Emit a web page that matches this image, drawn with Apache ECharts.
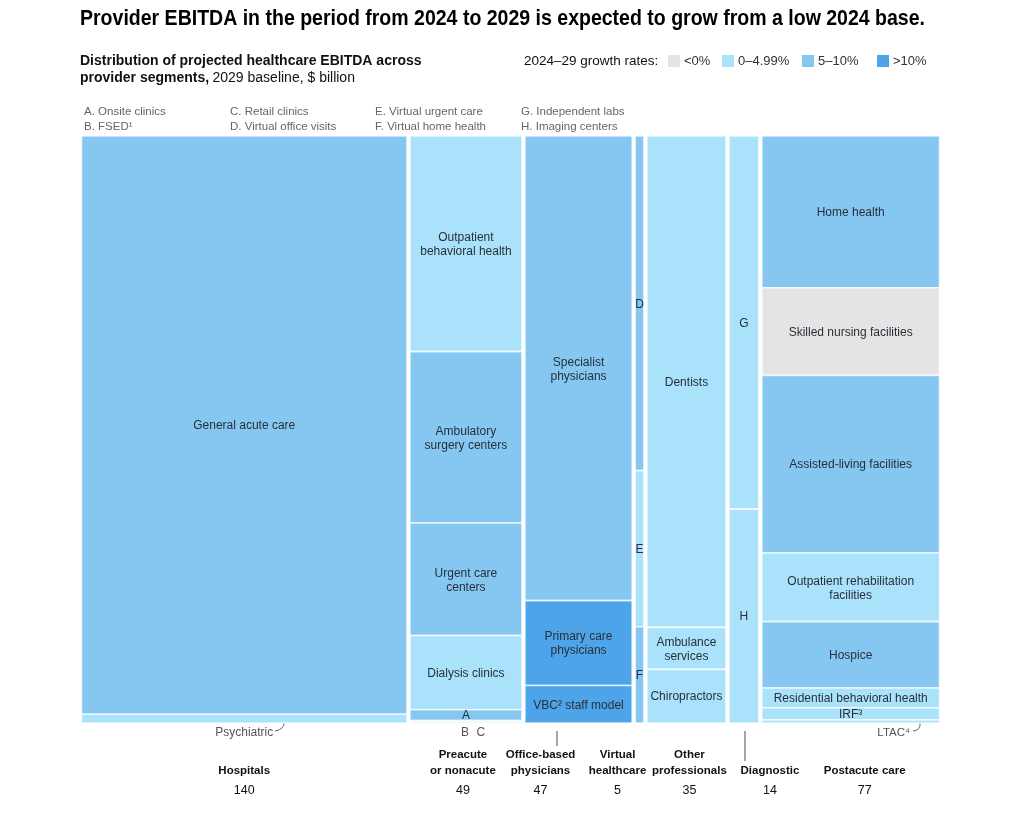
<!DOCTYPE html>
<html><head><meta charset="utf-8">
<script src="https://cdn.jsdelivr.net/npm/echarts@6/dist/echarts.min.js"></script>
<style>html,body{margin:0;padding:0;background:#fff}#c{width:1024px;height:814px}</style>
</head><body><div id="c"></div>
<script>
// ---------- DATA ----------
const groupNames = ['Hospitals','Preacute\nor nonacute','Office-based\nphysicians','Virtual\nhealthcare','Other\nprofessionals','Diagnostic','Postacute care'];
const groupTotals = [140, 49, 47, 5, 35, 14, 77];

const rateLabels = ['<0%', '0–4.99%', '5–10%', '>10%'];

const hospitalsNames = ['General acute care', 'Psychiatric'];
const hospitalsValues = [137.9, 2.1];
const hospitalsRates = [2, 1];

const preacuteNames = ['Outpatient\nbehavioral health', 'Ambulatory\nsurgery centers', 'Urgent care\ncenters', 'Dialysis clinics', 'A', 'B', 'C'];
const preacuteValues = [18, 14.3, 9.4, 6.2, 0.9, 0.1, 0.1];
const preacuteRates = [1, 2, 2, 1, 2, 1, 1];

const officeNames = ['Specialist\nphysicians', 'Primary care\nphysicians', 'VBC² staff model'];
const officeValues = [37.2, 6.8, 3.0];
const officeRates = [2, 3, 3];

const virtualNames = ['D', 'E', 'F'];
const virtualValues = [2.85, 1.33, 0.82];
const virtualRates = [2, 1, 2];

const otherNames = ['Dentists', 'Ambulance\nservices', 'Chiropractors'];
const otherValues = [29.3, 2.5, 3.2];
const otherRates = [1, 1, 1];

const diagnosticNames = ['G', 'H'];
const diagnosticValues = [8.9, 5.1];
const diagnosticRates = [1, 1];

const postacuteNames = ['Home health', 'Skilled nursing facilities', 'Assisted-living facilities', 'Outpatient rehabilitation\nfacilities', 'Hospice', 'Residential behavioral health', 'IRF³', 'LTAC⁴'];
const postacuteValues = [19.9, 11.5, 23.3, 9.0, 8.7, 2.6, 1.6, 0.4];
const postacuteRates = [2, 0, 2, 1, 2, 1, 1, 1];

// labels drawn outside the cells
const outsideLabels = ['Psychiatric', 'B', 'C', 'LTAC⁴'];

const keyNotes = [
  ['A. Onsite clinics', 'B. FSED¹'],
  ['C. Retail clinics', 'D. Virtual office visits'],
  ['E. Virtual urgent care', 'F. Virtual home health'],
  ['G. Independent labs', 'H. Imaging centers']
];

// ---------- STYLE ----------
const rateColors = ['#e4e4e4', '#aae2fb', '#86c7f2', '#4ea4e9'];
const FONT = "'Liberation Sans', Arial, sans-serif";
const TITLE_TEXT = 'Provider EBITDA in the period from 2024 to 2029 is expected to grow from a low 2024 base.';
const TITLE_FONT = 'bold 22px ' + FONT;

const segNames = [hospitalsNames, preacuteNames, officeNames, virtualNames, otherNames, diagnosticNames, postacuteNames];
const segValues = [hospitalsValues, preacuteValues, officeValues, virtualValues, otherValues, diagnosticValues, postacuteValues];
const segRates = [hospitalsRates, preacuteRates, officeRates, virtualRates, otherRates, diagnosticRates, postacuteRates];

const grandTotal = groupTotals.reduce((a, b) => a + b, 0);
const cells = [];
let cx = 0;
groupTotals.forEach((tot, gi) => {
  let cy = 0;
  const sumSeg = segValues[gi].reduce((a, b) => a + b, 0);
  segValues[gi].forEach((v, si) => {
    const nm = segNames[gi][si];
    const lbl = outsideLabels.includes(nm) ? '' : nm;
    cells.push([cx, cx + tot, cy / sumSeg, (cy + v) / sumSeg, segRates[gi][si], lbl, gi]);
    cy += v;
  });
  cx += tot;
});

function renderItem(params, api) {
  const x0 = api.value(0), x1 = api.value(1), y0 = api.value(2), y1 = api.value(3);
  const p0 = api.coord([x0, y0]), p1 = api.coord([x1, y1]);
  const gap = 1.5;
  const label = cells[params.dataIndex][5];
  const w = p1[0] - p0[0] - 2 * gap;
  const h = p1[1] - p0[1];
  return {
    type: 'rect',
    shape: { x: p0[0] + gap, y: p0[1], width: w, height: h },
    style: { fill: rateColors[api.value(4)], stroke: 'rgba(255,255,255,0.75)', lineWidth: 1.6 },
    textContent: {
      style: { text: label, fill: '#28303a', font: '12px ' + FONT, align: 'center', verticalAlign: 'middle', lineHeight: 14 }
    },
    textConfig: { position: 'inside', offset: [0, h < 16 ? 0.5 : 1] }
  };
}

const chart = echarts.init(document.getElementById('c'), null, { renderer: 'canvas' });
const GRID = { left: 80, right: 83, top: 136, bottom: 91 };
chart.setOption({
  animation: false,
  grid: GRID,
  xAxis: { type: 'value', min: 0, max: grandTotal, show: false },
  yAxis: { type: 'value', min: 0, max: 1, inverse: true, show: false },
  series: [{ type: 'custom', renderItem, data: cells, encode: { x: [0, 1], y: [2, 3] } }]
});

// ---------- ANNOTATIONS ----------
const mctx = document.createElement('canvas').getContext('2d');
mctx.font = TITLE_FONT;
const titleW = mctx.measureText(TITLE_TEXT).width;
const titleScale = 845 / titleW;

const g = [];
g.push({ type: 'text', x: 80, y: 19, scaleX: titleScale, style: { text: TITLE_TEXT, font: TITLE_FONT, fill: '#000', verticalAlign: 'middle' } });
g.push({ type: 'text', left: 80, top: 54, style: {
  text: '{b|Distribution of projected healthcare EBITDA across}\n{b|provider segments,} {n|2029 baseline, $ billion}',
  rich: { b: { font: 'bold 14px ' + FONT, fill: '#111', lineHeight: 17 }, n: { font: '14px ' + FONT, fill: '#111', lineHeight: 17 } }
} });
// legend
g.push({ type: 'text', x: 524, y: 61, style: { text: '2024–29 growth rates:', font: '13.5px ' + FONT, fill: '#111', verticalAlign: 'middle' } });
const legX = [668, 722, 802, 877];
rateLabels.forEach((t, i) => {
  g.push({ type: 'rect', shape: { x: legX[i], y: 55, width: 12, height: 12 }, style: { fill: rateColors[i] } });
  g.push({ type: 'text', x: legX[i] + 16, y: 61, style: { text: t, font: '13px ' + FONT, fill: '#333', verticalAlign: 'middle' } });
});
// key notes
const keyX = [84, 230, 375, 521];
keyNotes.forEach((pair, i) => {
  g.push({ type: 'text', left: keyX[i], top: 104, style: { text: pair[0] + '\n' + pair[1], font: '11.5px ' + FONT, fill: '#666', lineHeight: 15.5 } });
});

// column centers from the axis
const groupShift = [0, -3, -38, -22, 3, 26, 14];
let acc = 0;
groupTotals.forEach((tot, gi) => {
  const c = chart.convertToPixel({ gridIndex: 0 }, [acc + tot / 2, 1])[0] + groupShift[gi];
  acc += tot;
  g.push({ type: 'text', x: c, y: 779, style: { text: groupNames[gi], font: 'bold 11.5px ' + FONT, fill: '#111', align: 'center', verticalAlign: 'bottom', lineHeight: 16 } });
  g.push({ type: 'text', x: c, y: 791, style: { text: String(groupTotals[gi]), font: '12.5px ' + FONT, fill: '#111', align: 'center', verticalAlign: 'middle' } });
});

// outside labels
const hospC = chart.convertToPixel({ gridIndex: 0 }, [groupTotals[0] / 2, 1])[0];
g.push({ type: 'text', x: hospC, y: 733, style: { text: 'Psychiatric', font: '12px ' + FONT, fill: '#555', align: 'center', verticalAlign: 'middle' } });
g.push({ type: 'bezierCurve', shape: { x1: 284, y1: 722, x2: 275, y2: 731, cpx1: 285, cpy1: 729 }, style: { stroke: '#666', lineWidth: 1, fill: null } });
const preStart = chart.convertToPixel({ gridIndex: 0 }, [groupTotals[0], 1])[0];
const preEnd = chart.convertToPixel({ gridIndex: 0 }, [groupTotals[0] + groupTotals[1], 1])[0];
const preC = (preStart + preEnd) / 2;
g.push({ type: 'text', x: preC - 1, y: 733, style: { text: 'B', font: '12px ' + FONT, fill: '#555', align: 'center', verticalAlign: 'middle' } });
g.push({ type: 'text', x: preC + 15, y: 733, style: { text: 'C', font: '12px ' + FONT, fill: '#555', align: 'center', verticalAlign: 'middle' } });
const postEnd = chart.convertToPixel({ gridIndex: 0 }, [grandTotal, 1])[0];
g.push({ type: 'text', x: postEnd - 31, y: 733, style: { text: 'LTAC⁴', font: '11.5px ' + FONT, fill: '#555', align: 'right', verticalAlign: 'middle' } });
g.push({ type: 'bezierCurve', shape: { x1: postEnd - 21, y1: 723, x2: postEnd - 28, y2: 731, cpx1: postEnd - 20, cpy1: 730 }, style: { stroke: '#666', lineWidth: 1, fill: null } });
// leader lines
g.push({ type: 'line', shape: { x1: 557, y1: 731, x2: 557, y2: 746 }, style: { stroke: '#888', lineWidth: 1.5 } });
g.push({ type: 'line', shape: { x1: 745, y1: 731, x2: 745, y2: 761 }, style: { stroke: '#888', lineWidth: 1.5 } });

chart.setOption({ graphic: g });
</script></body></html>
